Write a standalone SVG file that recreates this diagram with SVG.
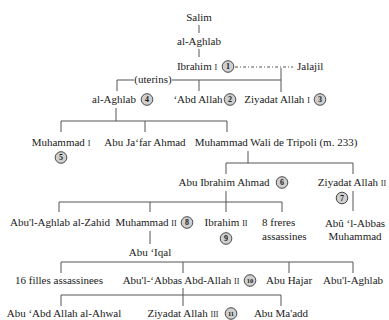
<svg xmlns="http://www.w3.org/2000/svg" width="389" height="320" viewBox="0 0 389 320">
<style>
text{font-family:"Liberation Serif","DejaVu Serif",serif;font-size:11px;fill:#1a1a1a}
.c{text-anchor:middle}
.s{text-anchor:start}
.sc{font-size:8px}
.num circle{fill:#cfcfcf;stroke:#333;stroke-width:0.9}
.num text{font-size:8px;text-anchor:middle;font-weight:bold}
#connectors line{stroke:#555;stroke-width:1;fill:none}
#connectors line.dot{stroke-dasharray:3,2,1,2}
</style>
<rect width="389" height="320" fill="#fff"/>
<g id="connectors">
<line x1="199" y1="25" x2="199" y2="33"/>
<line x1="199" y1="49" x2="199" y2="57"/>
<line class="dot" x1="235" y1="67" x2="293" y2="67"/>
<line x1="117" y1="80" x2="134" y2="80"/>
<line x1="172" y1="80" x2="281" y2="80"/>
<line x1="117" y1="80" x2="117" y2="91"/>
<line x1="199" y1="80" x2="199" y2="91"/>
<line x1="281" y1="68" x2="281" y2="92"/>
<line x1="116" y1="108" x2="116" y2="121"/>
<line x1="61" y1="121" x2="227" y2="121"/>
<line x1="61" y1="121" x2="61" y2="132"/>
<line x1="145" y1="121" x2="145" y2="132"/>
<line x1="227" y1="121" x2="227" y2="132"/>
<line x1="248" y1="151" x2="248" y2="163"/>
<line x1="226" y1="163" x2="353" y2="163"/>
<line x1="226" y1="163" x2="226" y2="174"/>
<line x1="353" y1="163" x2="353" y2="174"/>
<line x1="226" y1="191" x2="226" y2="212"/>
<line x1="59" y1="202" x2="282" y2="202"/>
<line x1="59" y1="202" x2="59" y2="212"/>
<line x1="150" y1="202" x2="150" y2="212"/>
<line x1="282" y1="202" x2="282" y2="212"/>
<line x1="353" y1="191" x2="353" y2="211"/>
<line x1="150" y1="231" x2="150" y2="244"/>
<line x1="61" y1="262" x2="353" y2="262"/>
<line x1="61" y1="262" x2="61" y2="273"/>
<line x1="183" y1="262" x2="183" y2="273"/>
<line x1="289" y1="262" x2="289" y2="273"/>
<line x1="353" y1="262" x2="353" y2="273"/>
<line x1="183" y1="288" x2="183" y2="306"/>
<line x1="61" y1="295" x2="281" y2="295"/>
<line x1="61" y1="295" x2="61" y2="306"/>
<line x1="281" y1="295" x2="281" y2="306"/>
</g>
<g id="salim"><text class="c" x="199" y="21">Salim</text></g>
<g id="al-aghlab-0"><text class="c" x="199" y="45">al-Aghlab</text></g>
<g id="ibrahim-1"><text class="c" x="197" y="70">Ibrahim <tspan class="sc">I</tspan></text>
<g class="num"><circle cx="228" cy="66.5" r="5.8"/><text x="228" y="69.3">1</text></g></g>
<g id="jalajil"><text class="s" x="297" y="70">Jalajil</text></g>
<g id="uterins"><text class="c" x="153" y="83">(uterins)</text></g>
<g id="al-aghlab-4"><text class="c" x="114" y="103">al-Aghlab</text>
<g class="num"><circle cx="147" cy="99.5" r="5.8"/><text x="147" y="102.3">4</text></g></g>
<g id="abd-allah-2"><text class="c" x="198" y="103">‘Abd Allah</text>
<g class="num"><circle cx="230" cy="99.5" r="5.8"/><text x="230" y="102.3">2</text></g></g>
<g id="ziyadat-allah-1"><text class="c" x="277" y="103">Ziyadat Allah <tspan class="sc">I</tspan></text>
<g class="num"><circle cx="320" cy="99.5" r="5.8"/><text x="320" y="102.3">3</text></g></g>
<g id="muhammad-1"><text class="c" x="61" y="146">Muhammad <tspan class="sc">I</tspan></text>
<g class="num"><circle cx="61" cy="157.5" r="5.8"/><text x="61" y="160.3">5</text></g></g>
<g id="abu-jafar"><text class="c" x="145" y="146">Abu Ja‘far Ahmad</text></g>
<g id="muhammad-wali"><text class="c" x="276" y="146">Muhammad Wali de Tripoli (m. 233)</text></g>
<g id="abu-ibrahim-ahmad"><text class="c" x="224" y="186">Abu Ibrahim Ahmad</text>
<g class="num"><circle cx="282" cy="182.5" r="5.8"/><text x="282" y="185.3">6</text></g></g>
<g id="ziyadat-allah-2"><text class="c" x="352" y="186">Ziyadat Allah <tspan class="sc">II</tspan></text>
<g class="num"><circle cx="342" cy="198" r="5.8"/><text x="342" y="200.8">7</text></g></g>
<g id="abul-abbas-muhammad"><text class="c" x="355" y="227">Abû ‘l-Abbas</text><text class="c" x="355" y="240">Muhammad</text></g>
<g id="abul-aghlab-zahid"><text class="c" x="60" y="226">Abu'l-Aghlab al-Zahid</text></g>
<g id="muhammad-2"><text class="c" x="146" y="226">Muhammad <tspan class="sc">II</tspan></text>
<g class="num"><circle cx="187" cy="222.5" r="5.8"/><text x="187" y="225.3">8</text></g></g>
<g id="ibrahim-2"><text class="c" x="226" y="226">Ibrahim <tspan class="sc">II</tspan></text>
<g class="num"><circle cx="226" cy="238.5" r="5.8"/><text x="226" y="241.3">9</text></g></g>
<g id="freres"><text class="s" x="262" y="226">8 freres</text><text class="s" x="262" y="240">assassines</text></g>
<g id="abu-iqal"><text class="c" x="150" y="256">Abu ‘Iqal</text></g>
<g id="filles"><text class="c" x="59" y="284">16 filles assassinees</text></g>
<g id="abul-abbas-abd-allah-2"><text class="c" x="181" y="284">Abu'l-‘Abbas Abd-Allah <tspan class="sc">II</tspan></text>
<g class="num"><circle cx="250" cy="280.5" r="5.8"/><text x="250" y="283" style="font-size:6.5px">10</text></g></g>
<g id="abu-hajar"><text class="c" x="289" y="284">Abu Hajar</text></g>
<g id="abul-aghlab"><text class="c" x="353" y="284">Abu'l-Aghlab</text></g>
<g id="abu-abd-allah-ahwal"><text class="c" x="64" y="317">Abu ‘Abd Allah al-Ahwal</text></g>
<g id="ziyadat-allah-3"><text class="c" x="183" y="317">Ziyadat Allah <tspan class="sc">III</tspan></text>
<g class="num"><circle cx="231" cy="313.5" r="5.8"/><text x="231" y="316" style="font-size:6.5px">11</text></g></g>
<g id="abu-maadd"><text class="c" x="281" y="317">Abu Ma'add</text></g>
</svg>
